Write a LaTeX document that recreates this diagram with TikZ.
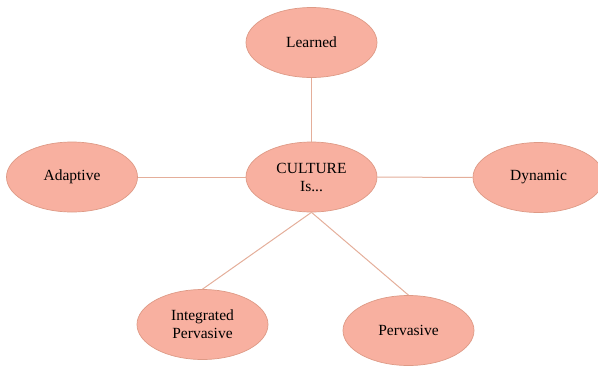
\documentclass[tikz,border=0pt]{standalone}
\usepackage{fontspec}
\setmainfont{Liberation Serif}
\usepackage{tikz}
\usetikzlibrary{shapes.geometric}
\definecolor{CulFill}{HTML}{F8B0A0}
\definecolor{CulEdge}{HTML}{DE9A86}
\definecolor{CulLink}{HTML}{E4AE9A}

\begin{document}
\begin{tikzpicture}[
        x=1pt,y=-1pt,
        idea/.style={ellipse,draw=CulEdge,line width=0.7pt,fill=CulFill,minimum width=131pt,minimum height=70pt,inner sep=0pt,align=center,font=\fontsize{15.5}{18}\selectfont},
        link/.style={CulLink,line width=1pt}
      ]
        \useasboundingbox (0,0) rectangle (598,368);
        \node[idea] (core) at (311.5,177) {CULTURE\\Is...};
        \node[idea] (learned) at (311.5,42.5) {Learned};
        \node[idea] (adapt) at (72,177) {Adaptive};
        \node[idea] (dyn) at (538.5,177.5) {Dynamic};
        \node[idea] (integ) at (202.5,324.5) {Integrated\\Pervasive};
        \node[idea] (perv) at (408.5,330.5) {Pervasive};
        \draw[link] (learned)--(core);
        \draw[link] (adapt)--(core);
        \draw[link] (core)--(dyn);
        \draw[link] (core.south)--(integ.north);
        \draw[link] (core.south)--(perv.north);
      \end{tikzpicture}
\end{document}
